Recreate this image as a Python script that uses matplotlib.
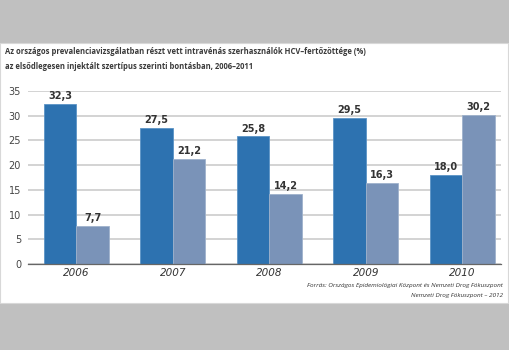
import matplotlib
matplotlib.use("Agg")
import matplotlib.pyplot as plt
import numpy as np
from matplotlib.patches import Rectangle
from matplotlib import font_manager

years = ["2006", "2007", "2008", "2009", "2010"]
dark_values = [32.3, 27.5, 25.8, 29.5, 18.0]
light_values = [7.7, 21.2, 14.2, 16.3, 30.2]
y_ticks = [0, 5, 10, 15, 20, 25, 30, 35]

title_lines = [
    "Az országos prevalenciavizsgálatban részt vett intravénás szerhasználók HCV–fertőzöttége (%)",
    "az elsődlegesen injektált szertípus szerinti bontásban, 2006–2011",
]
source_lines = [
    "Forrás: Országos Epidemiológiai Központ és Nemzeti Drog Fókuszpont",
    "Nemzeti Drog Fókuszpont – 2012",
]

DARK = "#2d72b0"
LIGHT = "#7a93b8"
TEXT = "#333333"

names = {f.name for f in font_manager.fontManager.ttflist}
TITLE_FONT = "Liberation Sans Narrow" if "Liberation Sans Narrow" in names else "Open Sans"
TITLE_SIZE = 6.7 if TITLE_FONT == "Liberation Sans Narrow" else 5.5


def fmt(v: float) -> str:
    """ Hungarian decimal comma. """
    return f"{v:.1f}".replace(".", ",")


def main():
    fig = plt.figure(figsize=(5.1, 3.5), dpi=100)
    fig.patch.set_facecolor("#c0c0c0")
    # white card behind the chart
    fig.add_artist(Rectangle((0, 1 - 303 / 350), 508 / 510, 260 / 350,
                             transform=fig.transFigure, facecolor="white",
                             edgecolor="#d8d8d8", linewidth=0.8, zorder=0))

    for i, line in enumerate(title_lines):
        fig.text(5 / 510, 1 - (52 + 14.5 * i) / 350, line, fontsize=TITLE_SIZE,
                 fontweight="bold", color="#3a3a3a", family=TITLE_FONT,
                 va="center", ha="left")

    ax = fig.add_axes([28 / 510, 1 - 264 / 350, 473 / 510, 173 / 350])
    ax.set_facecolor("none")
    x = np.arange(len(years))
    w = 0.337
    ax.bar(x - w / 2, dark_values, w, color=DARK, edgecolor="#5b93c6",
           linewidth=0.6, zorder=3)
    ax.bar(x + w / 2, light_values, w, color=LIGHT, edgecolor="#9fb2cc",
           linewidth=0.6, zorder=3)

    for xi, v in zip(x - w / 2, dark_values):
        ax.text(xi, v + 0.6, fmt(v), ha="center", va="bottom", fontsize=7,
                fontweight="semibold", color=TEXT, zorder=4)
    for xi, v in zip(x + w / 2, light_values):
        ax.text(xi, v + 0.6, fmt(v), ha="center", va="bottom", fontsize=7,
                fontweight="semibold", color=TEXT, zorder=4)

    ax.set_xlim(-0.5, 4.4)
    ax.set_ylim(0, 35)
    ax.set_yticks(y_ticks)
    ax.set_yticklabels([str(t) for t in y_ticks], fontsize=7, color="#444444")
    ax.set_xticks(x)
    ax.set_xticklabels(years, fontsize=7.5, style="italic", color=TEXT)
    ax.tick_params(axis="both", length=0)
    ax.tick_params(axis="y", pad=5)
    ax.tick_params(axis="x", pad=3)
    ax.yaxis.grid(True, color="#d0d0d0", linewidth=1.3, zorder=0)
    for side in ("top", "right", "left"):
        ax.spines[side].set_visible(False)
    ax.spines["bottom"].set_color("#666666")
    ax.spines["bottom"].set_linewidth(0.9)
    ax.spines["bottom"].set_zorder(5)

    for i, line in enumerate(source_lines):
        fig.text(503 / 510, 1 - (285 + 10 * i) / 350, line, fontsize=4.6,
                 style="italic", color=TEXT, ha="right", va="center",
                 family="Open Sans")

    fig.savefig("out.png", dpi=100, facecolor=fig.get_facecolor())


if __name__ == "__main__":
    main()
